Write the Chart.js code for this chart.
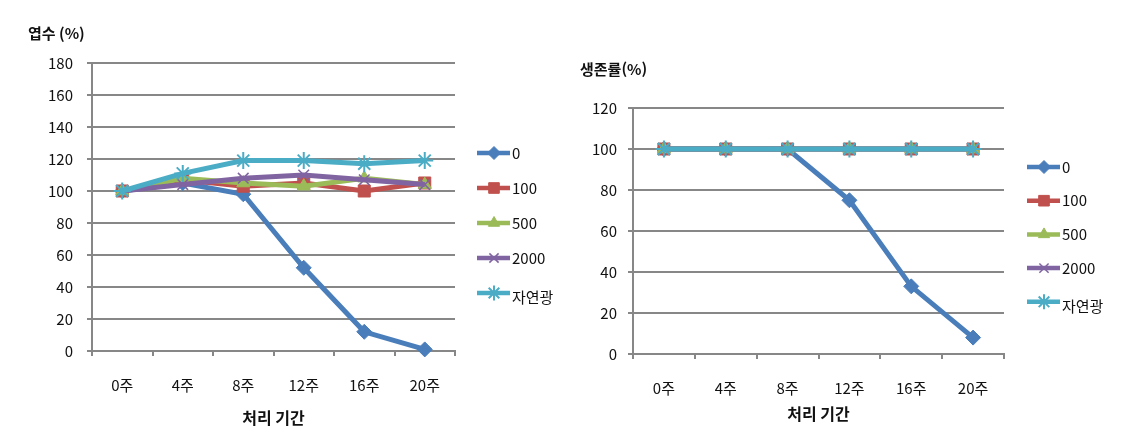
<!DOCTYPE html>
<html lang="ko">
<head>
<meta charset="utf-8">
<title>엽수 · 생존률</title>
<script src="https://cdn.jsdelivr.net/npm/chart.js@4/dist/chart.umd.min.js"></script>
<style>
  html, body { margin: 0; padding: 0; background: #fff; }
  #wrap { position: relative; width: 1132px; height: 435px; }
  #leafChart { position: absolute; left: 0; top: 0; }
  #survChart { position: absolute; left: 565px; top: 0; }
</style>
</head>
<body>
<div id="wrap">
  <canvas id="leafChart" width="565" height="435"></canvas>
  <canvas id="survChart" width="567" height="435"></canvas>
</div>
<script>
/* ---- data ---- */
var weeks = ['0주', '4주', '8주', '12주', '16주', '20주'];
var seriesNames = ['0', '100', '500', '2000', '자연광'];

// 엽수 (%)
var leaf0    = [100, 105, 98, 52, 12, 1];
var leaf100  = [100, 107, 103, 105, 100, 105];
var leaf500  = [100, 108, 105, 103, 108, 104];
var leaf2000 = [100, 104, 108, 110, 107, 104];
var leafNat  = [100, 111, 119, 119, 117, 119];

// 생존률 (%)
var surv0    = [100, 100, 100, 75, 33, 8];
var surv100  = [100, 100, 100, 100, 100, 100];
var surv500  = [100, 100, 100, 100, 100, 100];
var surv2000 = [100, 100, 100, 100, 100, 100];
var survNat  = [100, 100, 100, 100, 100, 100];

var leafTicks = [0, 20, 40, 60, 80, 100, 120, 140, 160, 180];
var survTicks = [0, 20, 40, 60, 80, 100, 120];

/* ---- styles ---- */
var FONT = '"Noto Sans CJK KR", "Noto Sans", sans-serif';
var GRID = '#878787';
var looks = [
  { color: '#4a7ebb', style: 'rectRot',  radius: 7.5, bw: 1 },
  { color: '#c0504d', style: 'rect',     radius: 8.5, bw: 1 },
  { color: '#9bbb59', style: 'triangle', radius: 7.5, bw: 1 },
  { color: '#8064a2', style: 'crossRot', radius: 7.5, bw: 1.5 },
  { color: '#4bacc6', style: 'star',     radius: 8.5, bw: 2 }
];

function makeSets(arrays) {
  return arrays.map(function (vals, i) {
    var l = looks[i];
    return {
      label: seriesNames[i],
      data: vals,
      borderColor: l.color,
      backgroundColor: l.color,
      borderWidth: 5,
      pointStyle: l.style,
      pointRadius: l.radius,
      pointBackgroundColor: l.color,
      pointBorderColor: l.color,
      pointBorderWidth: l.bw,
      tension: 0,
      order: arrays.length - i,
      clip: false
    };
  });
}

/* legend drawn at the right like the original (line + marker + label) */
var sideLegend = {
  id: 'sideLegend',
  afterDraw: function (chart, args, opts) {
    var ctx = chart.ctx;
    ctx.save();
    chart.data.datasets.forEach(function (ds, i) {
      var y = opts.top + i * opts.gap;
      ctx.strokeStyle = ds.borderColor;
      ctx.lineWidth = 4.5;
      ctx.beginPath();
      ctx.moveTo(opts.left, y);
      ctx.lineTo(opts.left + 33, y);
      ctx.stroke();
      ctx.fillStyle = ds.pointBackgroundColor;
      ctx.strokeStyle = ds.pointBorderColor;
      ctx.lineWidth = ds.pointBorderWidth;
      Chart.helpers.drawPoint(ctx, {
        pointStyle: ds.pointStyle, radius: ds.pointRadius - 1, rotation: 0,
        borderWidth: ds.pointBorderWidth
      }, opts.left + 17, y);
      ctx.fillStyle = '#111';
      ctx.font = '15px ' + FONT;
      ctx.textBaseline = 'middle';
      ctx.textAlign = 'left';
      ctx.fillText(ds.label, opts.left + 35, y + (i === 4 ? 4 : 0));
    });
    ctx.restore();
  }
};

/* y-axis caption placed horizontally above the axis */
var yCaption = {
  id: 'yCaption',
  afterDraw: function (chart, args, opts) {
    var ctx = chart.ctx;
    ctx.save();
    ctx.fillStyle = '#111';
    ctx.font = 'bold 15px ' + FONT;
    ctx.textBaseline = 'middle';
    ctx.textAlign = 'left';
    ctx.fillText(opts.text, opts.x, opts.y);
    ctx.restore();
  }
};

function buildChart(id, sets, ticks, box) {
  return new Chart(document.getElementById(id), {
    type: 'line',
    data: { labels: weeks, datasets: sets },
    plugins: [sideLegend, yCaption],
    options: {
      responsive: false,
      animation: false,
      layout: { padding: { left: 0, top: box.top, right: box.right, bottom: 0 } },
      plugins: {
        legend: { display: false },
        tooltip: { enabled: false },
        sideLegend: box.legend,
        yCaption: box.caption
      },
      scales: {
        x: {
          offset: true,
          grid: { offset: true, drawOnChartArea: false, drawTicks: true, tickLength: 5, color: GRID, lineWidth: 2 },
          border: { color: GRID, width: 2 },
          ticks: { color: '#111', padding: 20, font: { family: FONT, size: 15 } },
          title: {
            display: true, text: '처리 기간', color: '#111',
            font: { family: FONT, size: 16, weight: 'bold' },
            padding: { top: 0, bottom: box.titlePad }
          },
          afterFit: function (scale) { scale.height = box.xHeight; }
        },
        y: {
          min: ticks[0],
          max: ticks[ticks.length - 1],
          afterBuildTicks: function (scale) {
            scale.ticks = ticks.map(function (v) { return { value: v }; });
          },
          grid: { color: GRID, lineWidth: 2, tickLength: 5 },
          border: { color: GRID, width: 2 },
          ticks: { color: '#111', padding: box.yPad, font: { family: FONT, size: 15 } },
          afterFit: function (scale) { scale.width = box.yWidth; }
        }
      }
    }
  });
}

document.addEventListener('DOMContentLoaded', function () {
  buildChart('leafChart', makeSets([leaf0, leaf100, leaf500, leaf2000, leafNat]), leafTicks, {
    top: 63, right: 110, yWidth: 92, xHeight: 84, titlePad: 7, yPad: 14,
    legend: { left: 477, top: 153, gap: 35 },
    caption: { text: '엽수 (%)', x: 28, y: 33 }
  });
  buildChart('survChart', makeSets([surv0, surv100, surv500, surv2000, survNat]), survTicks, {
    top: 108, right: 128, yWidth: 68, xHeight: 81, titlePad: 11, yPad: 11,
    legend: { left: 462, top: 167, gap: 33.7 },
    caption: { text: '생존률(%)', x: 15, y: 69 }
  });
});
</script>
</body>
</html>
